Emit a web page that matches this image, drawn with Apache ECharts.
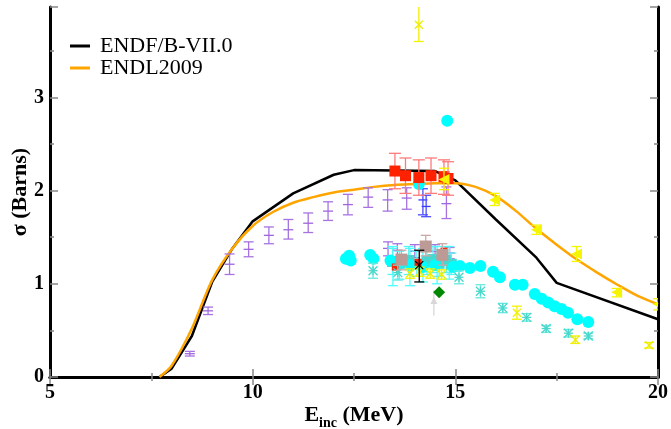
<!DOCTYPE html>
<html><head><meta charset="utf-8">
<script src="https://cdn.jsdelivr.net/npm/echarts@6/dist/echarts.min.js"></script>
<style>html,body{margin:0;padding:0;background:#fff}#c{width:671px;height:429px}</style>
</head><body><div id="c"></div>
<script>
// ---- evaluated curves ----
const endfX = [7.7, 8.0, 8.5, 9.0, 9.5, 10.0, 11.0, 12.0, 12.5, 14.5, 15.0, 16.0, 17.0, 17.5, 20.0];
const endfY = [0, 0.09, 0.44, 1.02, 1.38, 1.67, 1.97, 2.17, 2.22, 2.21, 2.11, 1.69, 1.28, 1.01, 0.62];
const endlX = [7.7, 8.0, 8.5, 9.0, 9.5, 10.0, 10.5, 11.0, 11.5, 12.0, 12.5, 13.0, 13.5, 14.0, 14.5, 15.0, 15.5, 16.0, 16.5, 17.0, 17.5, 18.0, 18.5, 19.0, 19.5, 20.0];
const endlY = [0, 0.12, 0.52, 1.04, 1.38, 1.62, 1.77, 1.87, 1.93, 1.98, 2.01, 2.04, 2.06, 2.07, 2.08, 2.08, 2.04, 1.94, 1.78, 1.59, 1.42, 1.26, 1.12, 0.99, 0.87, 0.78];

// ---- experimental sets: [E, sigma, low, high] ----
const purplePts = [[8.45,0.25,0.225,0.275],[8.9,0.71,0.67,0.75],[9.43,1.21,1.1,1.32],[9.9,1.37,1.29,1.45],
  [10.4,1.52,1.43,1.61],[10.88,1.58,1.48,1.69],[11.37,1.65,1.55,1.76],[11.86,1.78,1.68,1.88],
  [12.35,1.85,1.74,1.96],[12.85,1.93,1.82,2.03],[13.33,1.9,1.78,2.01],[13.8,1.92,1.8,2.03],[14.78,1.86,1.7,2.04],
  [13.34,1.38,1.3,1.45],[13.57,1.36,1.28,1.43],[14.0,1.35,1.28,1.42],[14.5,1.35,1.28,1.42],[14.86,1.33,1.27,1.39]];
const bluePts = [[14.2,1.9,1.74,2.02],[14.28,1.83,1.72,1.95]];
const cyanBarPts = [[13.46,1.2,0.98,1.4],[13.88,1.18,0.98,1.38],[14.2,1.2,1.02,1.38],[14.55,1.2,1.0,1.4],[14.85,1.22,1.05,1.4]];
const turqSqPts = [[13.45,1.24,1.1,1.38],[13.62,1.22,1.05,1.35],[13.85,1.25,1.1,1.4],[14.05,1.21,1.08,1.35],
  [14.3,1.24,1.1,1.38],[14.45,1.26,1.12,1.4],[14.6,1.22,1.08,1.36],[14.78,1.25,1.12,1.4],[14.9,1.21,1.1,1.33]];
const cyanPts = [[12.3,1.27],[12.38,1.3],[12.42,1.25],[12.9,1.31],[12.98,1.27],[13.4,1.25],[14.1,2.07],[14.8,2.75],
  [13.6,1.22],[13.9,1.2],[14.2,1.18],[14.5,1.2],[14.95,1.18],
  [15.11,1.19],[15.36,1.17],[15.62,1.19],[15.93,1.13],[16.1,1.07],[16.47,0.99],[16.66,0.99],[16.96,0.89],
  [17.13,0.84],[17.29,0.8],[17.45,0.76],[17.62,0.73],[17.78,0.69],[18.01,0.62],[18.28,0.59]];
const redPts = [[13.51,2.21,2.02,2.4],[13.77,2.16,1.97,2.35],[14.1,2.14,1.95,2.33],[14.4,2.16,1.97,2.35],[14.72,2.15,1.96,2.33],[14.82,2.13,1.95,2.31]];
const redSmallPts = [[13.52,1.18],[14.08,1.23],[14.72,1.35]];
const asterPts = [[12.97,1.14,1.06,1.22],[13.58,1.12,1.04,1.2],[15.09,1.07,1.0,1.14],[15.62,0.92,0.85,0.99],[16.17,0.74,0.69,0.79],
  [16.76,0.64,0.6,0.68],[17.24,0.52,0.48,0.55],[17.79,0.47,0.43,0.51],[18.28,0.44,0.41,0.47]];
const yellowXPts = [[14.1,3.78,3.6,4.0],[13.88,1.11,1.06,1.16],[14.12,1.13,1.08,1.18],[14.38,1.11,1.06,1.16],[14.66,1.1,1.05,1.15],
  [16.52,0.69,0.62,0.76],[17.96,0.4,0.36,0.44],[19.78,0.34,0.31,0.37]];
const yellowTriPts = [[14.72,2.12,2.01,2.24],[15.97,1.9,1.84,1.97],[17.0,1.58,1.53,1.63],[17.99,1.32,1.24,1.4],[18.98,0.91,0.86,0.95],[20.0,0.78,0.72,0.84]];
const rosyPts = [[13.67,1.26,1.15,1.36],[14.27,1.4,1.3,1.52],[14.68,1.31,1.2,1.43]];
const blackPts = [[14.11,1.2,1.02,1.36]];
const greenPts = [[14.6,0.91,0.88,0.94]];
const greyPts = [[14.47,0.82,0.66,0.93]];

const xTicks = [5, 10, 15, 20];
const yTicks = [0, 1, 2, 3];

function full(p){ return p.map(d => d.length === 4 ? d : [d[0], d[1], d[1], d[1]]); }

function makeRender(markColor, barColor, shape, size, capW){
  return function(params, api){
    const x = api.value(0), y = api.value(1), lo = api.value(2), hi = api.value(3);
    const c = api.coord([x, y]);
    const t = api.coord([x, hi]);
    const b = api.coord([x, lo]);
    const ch = [];
    const ls = {stroke: barColor, lineWidth: 1.3};
    if (hi > lo) {
      ch.push({type:'line', shape:{x1:c[0], y1:t[1], x2:c[0], y2:b[1]}, style: ls});
      if (capW > 0) {
        ch.push({type:'line', shape:{x1:c[0]-capW, y1:t[1], x2:c[0]+capW, y2:t[1]}, style: ls});
        ch.push({type:'line', shape:{x1:c[0]-capW, y1:b[1], x2:c[0]+capW, y2:b[1]}, style: ls});
      }
    }
    const s = size / 2, cx = c[0], cy = c[1];
    const ms = {stroke: markColor, lineWidth: 1.3};
    if (shape === 'circle') ch.push({type:'circle', shape:{cx:cx, cy:cy, r:s}, style:{fill: markColor}});
    else if (shape === 'square') ch.push({type:'rect', shape:{x:cx-s, y:cy-s, width:size, height:size}, style:{fill: markColor}});
    else if (shape === 'diamond') ch.push({type:'polygon', shape:{points:[[cx,cy-s],[cx+s,cy],[cx,cy+s],[cx-s,cy]]}, style:{fill: markColor}});
    else if (shape === 'triL') ch.push({type:'polygon', shape:{points:[[cx-s,cy],[cx+s,cy-s],[cx+s,cy+s]]}, style:{fill: markColor}});
    else if (shape === 'triU') ch.push({type:'polygon', shape:{points:[[cx,cy-s],[cx+s,cy+s],[cx-s,cy+s]]}, style:{fill: markColor}});
    else if (shape === 'plus') ch.push({type:'line', shape:{x1:cx-s, y1:cy, x2:cx+s, y2:cy}, style: ms});
    else if (shape === 'xmark') {
      ch.push({type:'line', shape:{x1:cx-s, y1:cy-s, x2:cx+s, y2:cy+s}, style: ms});
      ch.push({type:'line', shape:{x1:cx-s, y1:cy+s, x2:cx+s, y2:cy-s}, style: ms});
    } else if (shape === 'aster') {
      ch.push({type:'line', shape:{x1:cx-s, y1:cy-s, x2:cx+s, y2:cy+s}, style: ms});
      ch.push({type:'line', shape:{x1:cx-s, y1:cy+s, x2:cx+s, y2:cy-s}, style: ms});
      ch.push({type:'line', shape:{x1:cx-s, y1:cy, x2:cx+s, y2:cy}, style: ms});
      ch.push({type:'line', shape:{x1:cx, y1:cy-s, x2:cx, y2:cy+s}, style: ms});
    }
    return {type:'group', children: ch};
  };
}

function expSeries(name, pts, markColor, barColor, shape, size, capW, z){
  return {type:'custom', name: name, data: full(pts), dimensions:['x','y','lo','hi'],
    encode:{x:0, y:1}, renderItem: makeRender(markColor, barColor, shape, size, capW), clip: true, z: z || 3, silent: true};
}

const serif = '"Liberation Serif", "DejaVu Serif", serif';
const chart = echarts.init(document.getElementById('c'), null, {renderer:'canvas'});

const tickStyle = {show:true, inside:true, length:8, lineStyle:{color:'#888', width:1.5}};
const minorStyle = {show:true, splitNumber:2, length:4, lineStyle:{color:'#888', width:1.5}};
const lineStyle = {show:true, lineStyle:{color:'#000', width:3}};

chart.setOption({
  animation:false,
  backgroundColor:'#fff',
  grid:{left:50, right:13, top:7, bottom:52, containLabel:false, outerBoundsMode:'none'},
  legend:{
    left:70, top:35, orient:'vertical', itemWidth:20, itemHeight:3, itemGap:0, padding:0,
    icon:'rect',
    data:['ENDF/B-VII.0','ENDL2009'],
    textStyle:{fontFamily:serif, fontSize:22, lineHeight:21, color:'#000', padding:[0,0,0,5]}
  },
  xAxis:[{
    type:'value', min:xTicks[0], max:xTicks[xTicks.length-1], interval:5,
    axisLine:lineStyle, axisTick:tickStyle, minorTick:minorStyle, splitLine:{show:false},
    axisLabel:{fontFamily:serif, fontWeight:'bold', fontSize:20, color:'#000', margin:6},
    name:'{a|E}{b|inc}{a| (MeV)}', nameLocation:'middle', nameGap:27, nameMoveOverlap:false,
    nameTextStyle:{rich:{
      a:{fontFamily:serif, fontWeight:'bold', fontSize:22, color:'#000', verticalAlign:'top'},
      b:{fontFamily:serif, fontWeight:'bold', fontSize:14, color:'#000', verticalAlign:'bottom', padding:[12,0,0,0]}
    }}
  },{
    type:'value', position:'top', min:5, max:20, interval:5,
    axisLine:lineStyle, axisTick:tickStyle, minorTick:minorStyle, splitLine:{show:false}, axisLabel:{show:false}
  }],
  yAxis:[{
    type:'value', min:yTicks[0], max:3.97, interval:1,
    axisLine:lineStyle, axisTick:tickStyle, minorTick:minorStyle, splitLine:{show:false},
    axisLabel:{fontFamily:serif, fontWeight:'bold', fontSize:20, color:'#000', margin:6, showMaxLabel:false,
      formatter: v => yTicks.indexOf(v) >= 0 ? String(v) : ''},
    name:'σ (Barns)', nameLocation:'middle', nameGap:19, nameRotate:90, nameMoveOverlap:false,
    nameTextStyle:{fontFamily:serif, fontWeight:'bold', fontSize:22, color:'#000'}
  },{
    type:'value', position:'right', min:0, max:3.97, interval:1,
    axisLine:lineStyle, axisTick:tickStyle, minorTick:minorStyle, splitLine:{show:false}, axisLabel:{show:false}
  }],
  series:[
    {type:'line', name:'ENDF/B-VII.0', data: endfX.map((x,i)=>[x, endfY[i]]), showSymbol:false, symbol:'none',
      lineStyle:{color:'#000', width:2.5}, itemStyle:{color:'#000'}, z:2},
    {type:'line', name:'ENDL2009', data: endlX.map((x,i)=>[x, endlY[i]]), showSymbol:false, symbol:'none', smooth:0.3,
      lineStyle:{color:'#ffa500', width:2.5}, itemStyle:{color:'#ffa500'}, z:2},
    expSeries('purple', purplePts, '#a066dd', '#a673e0', 'plus', 10, 5),
    expSeries('blue', bluePts, '#3a3aff', '#4b4bff', 'plus', 9, 5),
    expSeries('cyanbars', cyanBarPts, '#00ffff', '#50ffff', 'none', 0, 5),
    expSeries('turqsq', turqSqPts, '#44d8d0', '#55f5f5', 'square', 11, 5),
    expSeries('cyan', cyanPts, '#00ffff', '#00ffff', 'circle', 12, 0),
    expSeries('red', redPts, '#ff2200', '#ff7a7a', 'square', 11, 6),
    expSeries('redsmall', redSmallPts, '#ff2200', '#ff2200', 'square', 7, 0),
    expSeries('aster', asterPts, '#48d8cc', '#66e8e0', 'aster', 9, 5),
    expSeries('yellowx', yellowXPts, '#eeee00', '#f2f200', 'xmark', 8, 5),
    expSeries('yellowtri', yellowTriPts, '#f5f500', '#f5f500', 'triL', 11, 5),
    expSeries('rosy', rosyPts, '#bc9a96', '#c9a9a6', 'square', 12, 5),
    expSeries('black', blackPts, '#000', '#000', 'xmark', 8, 5),
    expSeries('grey', greyPts, '#d8d8d8', '#d8d8d8', 'triU', 7, 0),
    expSeries('green', greenPts, '#008800', '#008800', 'diamond', 12, 0)
  ]
});
</script>
</body></html>
